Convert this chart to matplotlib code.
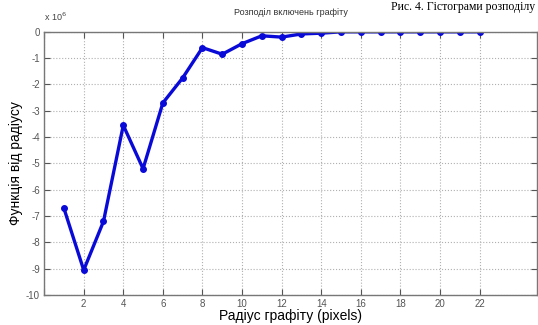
import numpy as np
import matplotlib.pyplot as plt

# radius of graphite inclusions (pixels) and function value (x 10^6)
radius = [1, 2, 3, 4, 5, 6, 7, 8, 9, 10, 11, 12, 13, 14, 15, 16, 17, 18, 19, 20, 21, 22]
func = [-6.7, -9.05, -7.2, -3.55, -5.2, -2.7, -1.75, -0.6, -0.85, -0.45, -0.15, -0.2,
        -0.08, -0.05, 0, 0, 0, 0, 0, 0, 0, 0]

xticks = list(range(2, 23, 2))
yticks = list(range(-10, 1))

plt.rcParams['font.family'] = ['Liberation Sans', 'DejaVu Sans']

fig = plt.figure(figsize=(5.38, 3.25), dpi=100)
ax = fig.add_axes([0.082, 0.092, 0.916, 0.81])

ax.plot(radius, func, color='#0a0ad8', lw=2.4, marker='o', ms=4,
        markerfacecolor='#0a0ad8', markeredgecolor='#0a0ad8')

ax.set_xlim(0, 24.9)
ax.set_ylim(-10, 0)
ax.set_xticks([0] + xticks)
ax.set_xticklabels([''] + [str(t) for t in xticks])
ax.set_yticks(yticks)
ax.set_yticklabels([str(t) for t in yticks])
ax.grid(True, linestyle=':', color='#b0b0b0', lw=0.8)
ax.tick_params(direction='in', top=True, right=True, length=4, labelsize=7,
               colors='#555555', pad=3)
for s in ax.spines.values():
    s.set_color('#777777')
    s.set_linewidth(1.0)

ax.set_title('Розподіл включень графіту', fontsize=6.5, color='#333333', pad=12)
ax.set_xlabel('Радіус графіту (pixels)', fontsize=10, labelpad=0)
ax.set_ylabel('Функція від радіусу', fontsize=10, labelpad=2)
ax.text(0.0, 1.035, r'x 10$^6$', transform=ax.transAxes, fontsize=6.5,
        color='#444444', ha='left', va='bottom')

# caption fragment from the source page
fig.text(0.995, 0.998, 'Рис. 4. Гістограми розподілу', fontsize=8.5,
         family='Liberation Serif', ha='right', va='top')

fig.savefig('out.png', dpi=100)
